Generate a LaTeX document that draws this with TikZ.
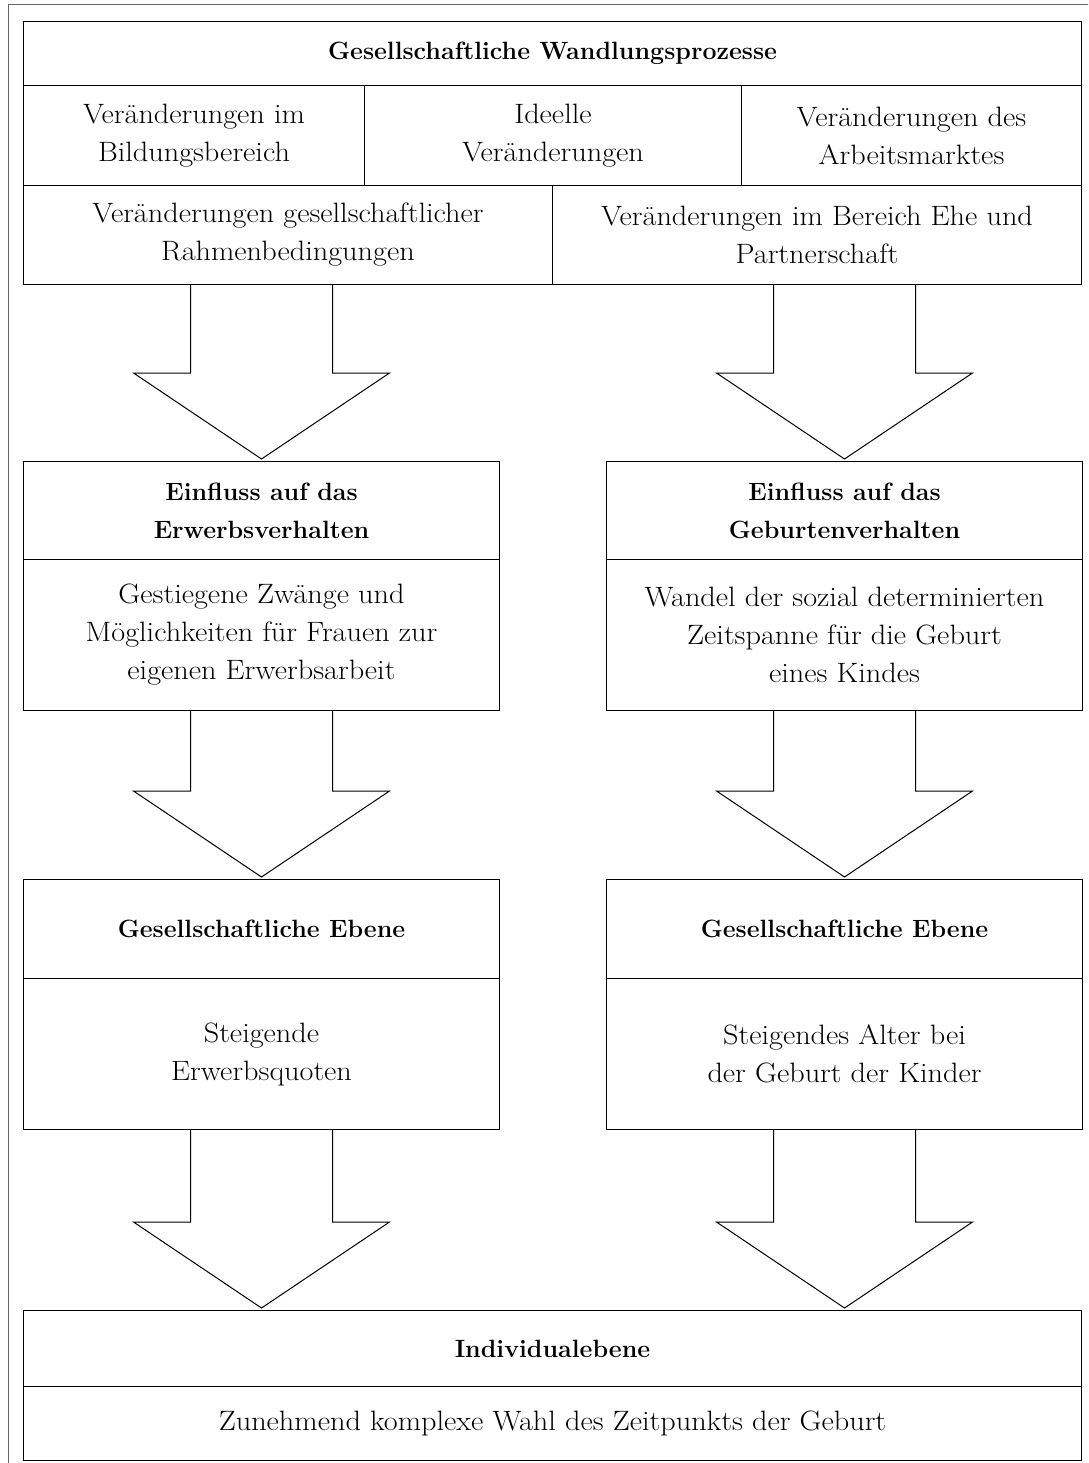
\documentclass[tikz,border=0pt]{standalone}
\usepackage{fontspec}
\newfontfamily\widefam{Latin Modern Roman}[FakeStretch=1.08]
\usetikzlibrary{calc}
\tikzset{
  cell/.style={draw=black, line width=1pt, anchor=north west, inner sep=0pt,
    align=center, font=\widefam\fontsize{28}{38}\selectfont},
  hcell/.style={cell, font=\fontsize{25}{38}\selectfont\bfseries},
  barrowline/.style={draw=black, line width=1pt, line join=miter}
}
\newcommand{\blockarrow}[3]{%
  \draw[barrowline] let \p1=(#1.south), \p2=(#2.north), \p3=(#3.center) in
    (\x3-71pt,\y1) -- (\x3-71pt,\y2+88pt) -- (\x3-128pt,\y2+88pt) --
    (\x3,\y2+2pt) -- (\x3+128pt,\y2+88pt) -- (\x3+71pt,\y2+88pt) -- (\x3+71pt,\y1);}
\begin{document}
\begin{tikzpicture}[x=1pt,y=-1pt]
\useasboundingbox (0,0) rectangle (1088,1463);
\clip (0,0) rectangle (1088,1463);
\fill[white] (0,0) rectangle (1088,1463);
\draw[black!60, line width=1pt] (8,5) rectangle (1100,1480);
% top block
\node[hcell, minimum width=1058pt, minimum height=64pt] (t0) at (23,21) {Gesellschaftliche Wandlungsprozesse};
\node[cell, minimum width=341pt, minimum height=100pt] (t1) at (23,85) {Veränderungen im\\Bildungsbereich};
\node[cell, minimum width=377pt, minimum height=100pt] (t2) at (364,85) {Ideelle\\Veränderungen};
\node[cell, minimum width=340pt, minimum height=100pt] (t3) at (741,85) {Veränderungen des\\Arbeitsmarktes};
\node[cell, minimum width=529pt, minimum height=99pt] (t4) at (23,185) {Veränderungen gesellschaftlicher\\Rahmenbedingungen};
\node[cell, minimum width=529pt, minimum height=99pt] (t5) at (552,185) {Veränderungen im Bereich Ehe und\\Partnerschaft};
% second level
\node[hcell, minimum width=476pt, minimum height=98pt] (l1h) at (23,461) {Einfluss auf das\\Erwerbsverhalten};
\node[cell, minimum width=476pt, minimum height=151pt] (l1b) at (23,559) {Gestiegene Zwänge und\\Möglichkeiten für Frauen zur\\eigenen Erwerbsarbeit};
\node[hcell, minimum width=476pt, minimum height=98pt] (r1h) at (606,461) {Einfluss auf das\\Geburtenverhalten};
\node[cell, minimum width=476pt, minimum height=151pt] (r1b) at (606,559) {Wandel der sozial determinierten\\Zeitspanne für die Geburt\\eines Kindes};
% third level
\node[hcell, minimum width=476pt, minimum height=99pt] (l2h) at (23,879) {Gesellschaftliche Ebene};
\node[cell, minimum width=476pt, minimum height=151pt] (l2b) at (23,978) {Steigende\\Erwerbsquoten};
\node[hcell, minimum width=476pt, minimum height=99pt] (r2h) at (606,879) {Gesellschaftliche Ebene};
\node[cell, minimum width=476pt, minimum height=151pt] (r2b) at (606,978) {Steigendes Alter bei\\der Geburt der Kinder};
% bottom
\node[hcell, minimum width=1058pt, minimum height=76pt] (bh) at (23,1310) {Individualebene};
\node[cell, minimum width=1058pt, minimum height=74pt] (bb) at (23,1386) {Zunehmend komplexe Wahl des Zeitpunkts der Geburt};
% block arrows
\blockarrow{t4}{l1h}{l1h}
\blockarrow{t5}{r1h}{r1h}
\blockarrow{l1b}{l2h}{l1b}
\blockarrow{r1b}{r2h}{r1b}
\blockarrow{l2b}{bh}{l2b}
\blockarrow{r2b}{bh}{r2b}
\end{tikzpicture}
\end{document}
